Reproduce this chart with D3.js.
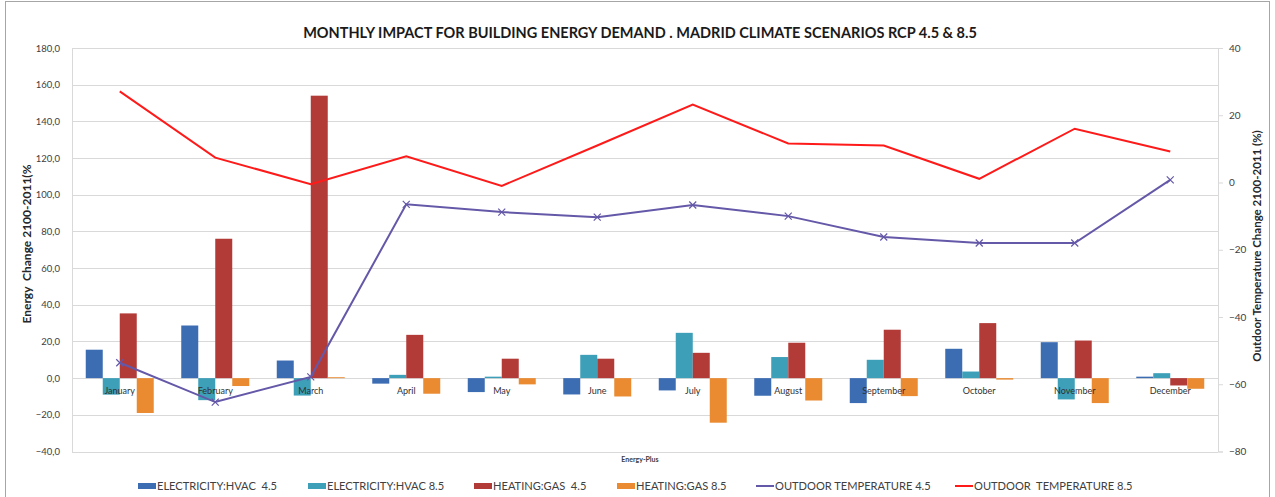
<!doctype html>
<html>
<head>
  <meta charset="UTF-8">
  <title>Monthly impact for building energy demand</title>
  <script src="https://cdn.jsdelivr.net/npm/d3@7"></script>
  <style type="text/css">
    body { margin: 0; background: #fff; }
    svg text { font-family: Lato, "Open Sans", sans-serif; }
  </style>
</head>
<body>
  <div id="chart"></div>
  <script>
    // data
    var months = ["January", "February", "March", "April", "May", "June", "July",
      "August", "September", "October", "November", "December"];
    var elecHvac45 = [15.5, 28.7, 9.6, -3.0, -7.6, -8.9, -6.7, -9.6, -13.6, 16.0, 19.6, 0.8];
    var elecHvac85 = [-9.0, -12.0, -9.5, 1.8, 0.8, 12.7, 24.7, 11.5, 10.0, 3.6, -11.6, 2.7];
    var heatGas45 = [35.3, 76.0, 154.0, 23.6, 10.6, 10.6, 13.8, 19.3, 26.4, 30.0, 20.5, -4.0];
    var heatGas85 = [-19.0, -4.3, 0.5, -8.5, -3.4, -10.0, -24.3, -12.2, -9.8, -0.8, -13.6, -5.8];
    var tempOut45 = [-53.6, -65.3, -57.8, -6.5, -8.8, -10.3, -6.7, -10.0, -16.2, -18.0, -18.0, 0.8];
    var tempOut85 = [27.1, 7.4, -0.5, 7.8, -1.0, 11.0, 23.2, 11.6, 11.0, 1.1, 16.0, 9.2];
    var leftTicks = [-40, -20, 0, 20, 40, 60, 80, 100, 120, 140, 160, 180];
    var rightTicks = [-80, -60, -40, -20, 0, 20, 40];

    var barSeries = [
      { name: "ELECTRICITY:HVAC  4.5", values: elecHvac45, color: "#3c6db3" },
      { name: "ELECTRICITY:HVAC 8.5", values: elecHvac85, color: "#3d9fb8" },
      { name: "HEATING:GAS  4.5", values: heatGas45, color: "#b23b38" },
      { name: "HEATING:GAS 8.5", values: heatGas85, color: "#ea8b32" }
    ];
    var lineSeries = [
      { name: "OUTDOOR TEMPERATURE 4.5", values: tempOut45, color: "#6458a8" },
      { name: "OUTDOOR  TEMPERATURE 8.5", values: tempOut85, color: "#ff1a1a" }
    ];

    var w = 1275, h = 497,
      pLeft = 72, pRight = 1218, pTop = 48, pBottom = 451.5;

    var svg = d3.select("#chart").append("svg")
      .attr("width", w)
      .attr("height", h);

    // frame of the chart
    svg.append("rect")
      .attr("x", 5.5).attr("y", 1.5)
      .attr("width", 1264).attr("height", 500)
      .attr("fill", "#fff")
      .attr("stroke", "#a6a6a6");

    var x0 = d3.scaleBand().domain(months).range([pLeft, pRight])
      .paddingInner(0.288).paddingOuter(0.144);
    var x1 = d3.scaleBand().domain(d3.range(barSeries.length)).range([0, x0.bandwidth()]);
    var yL = d3.scaleLinear().domain([-40, 180]).range([pBottom, pTop]);
    var yR = d3.scaleLinear().domain([-80, 40]).range([pBottom, pTop]);
    var cx = function(m) { return x0(m) + x0.bandwidth() / 2; };

    // gridlines
    svg.append("g")
      .selectAll("line")
      .data(leftTicks)
      .enter().append("line")
      .attr("x1", pLeft).attr("x2", pRight)
      .attr("y1", function(d) { return Math.round(yL(d)) + 0.5; })
      .attr("y2", function(d) { return Math.round(yL(d)) + 0.5; })
      .attr("stroke", "#d9d9d9");

    // left axis
    var axL = svg.append("g")
      .attr("transform", "translate(" + pLeft + ",0)")
      .call(d3.axisLeft(yL).tickValues(leftTicks).tickSize(0).tickPadding(12)
        .tickFormat(function(d) { return d3.format(".1f")(d).replace(".", ","); }));
    axL.select(".domain").attr("stroke", "#d9d9d9");
    axL.selectAll("text").attr("font-size", 9.5).attr("fill", "#404040");

    // right axis
    var axR = svg.append("g")
      .attr("transform", "translate(" + pRight + ",0)")
      .call(d3.axisRight(yR).tickValues(rightTicks).tickSize(5).tickPadding(6));
    axR.select(".domain").attr("stroke", "#d9d9d9");
    axR.selectAll("line").attr("stroke", "#d9d9d9");
    axR.selectAll("text").attr("font-size", 10).attr("fill", "#404040");

    // bars
    barSeries.forEach(function(s, i) {
      svg.append("g")
        .selectAll("rect")
        .data(s.values)
        .enter().append("rect")
        .attr("x", function(d, j) { return x0(months[j]) + x1(i); })
        .attr("width", x1.bandwidth())
        .attr("y", function(d) { return yL(Math.max(0, d)); })
        .attr("height", function(d) { return Math.abs(yL(d) - yL(0)); })
        .attr("fill", s.color);
    });

    // month labels next to the zero line
    svg.append("g")
      .selectAll("text")
      .data(months)
      .enter().append("text")
      .attr("x", cx)
      .attr("y", yL(0) + 16)
      .attr("text-anchor", "middle")
      .attr("font-size", 9)
      .attr("fill", "#303030")
      .text(String);

    // temperature lines on the right axis
    var line = d3.line()
      .x(function(d, i) { return cx(months[i]); })
      .y(function(d) { return yR(d); });

    lineSeries.forEach(function(s) {
      svg.append("path")
        .attr("d", line(s.values))
        .attr("fill", "none")
        .attr("stroke", s.color)
        .attr("stroke-width", 2);
    });

    // x markers on the 4.5 temperature line
    svg.append("g")
      .selectAll("path")
      .data(tempOut45)
      .enter().append("path")
      .attr("d", function(d, i) {
        var px = cx(months[i]), py = yR(d), r = 3.5;
        return "M" + (px - r) + "," + (py - r) + "L" + (px + r) + "," + (py + r) +
          "M" + (px - r) + "," + (py + r) + "L" + (px + r) + "," + (py - r);
      })
      .attr("stroke", lineSeries[0].color)
      .attr("stroke-width", 1.2);

    // titles
    svg.append("text")
      .attr("x", 640).attr("y", 38)
      .attr("text-anchor", "middle")
      .attr("font-size", 14.5)
      .attr("font-weight", "bold")
      .attr("fill", "#1a1a1a")
      .text("MONTHLY IMPACT FOR BUILDING ENERGY DEMAND . MADRID CLIMATE SCENARIOS RCP 4.5 & 8.5");

    svg.append("text")
      .attr("transform", "translate(31,244) rotate(-90)")
      .attr("text-anchor", "middle")
      .attr("font-size", 12)
      .attr("font-weight", "bold")
      .attr("fill", "#262626")
      .style("white-space", "pre")
      .text("Energy  Change 2100-2011(%");

    svg.append("text")
      .attr("transform", "translate(1261,246) rotate(-90)")
      .attr("text-anchor", "middle")
      .attr("font-size", 11.5)
      .attr("font-weight", "bold")
      .attr("fill", "#262626")
      .text("Outdoor Temperature Change 2100-2011 (%)");

    svg.append("text")
      .attr("x", 640).attr("y", 462)
      .attr("text-anchor", "middle")
      .attr("font-size", 7)
      .attr("font-weight", "bold")
      .attr("fill", "#404040")
      .text("Energy-Plus");

    // legend
    var legendX = [138, 308, 474, 617, 756, 955];
    var items = barSeries.concat(lineSeries);
    var lg = svg.append("g").selectAll("g")
      .data(items)
      .enter().append("g")
      .attr("transform", function(d, i) { return "translate(" + legendX[i] + ",486)"; });

    lg.filter(function(d, i) { return i < 4; })
      .append("rect")
      .attr("x", 0).attr("y", -3).attr("width", 18).attr("height", 6)
      .attr("fill", function(d) { return d.color; });

    lg.filter(function(d, i) { return i >= 4; })
      .append("line")
      .attr("x1", 0).attr("x2", 18).attr("y1", 0).attr("y2", 0)
      .attr("stroke", function(d) { return d.color; })
      .attr("stroke-width", 2);

    lg.append("text")
      .attr("x", 19)
      .attr("y", 4)
      .attr("font-size", 11.1)
      .attr("fill", "#404040")
      .style("white-space", "pre")
      .text(function(d) { return d.name; });
  </script>
</body>
</html>
